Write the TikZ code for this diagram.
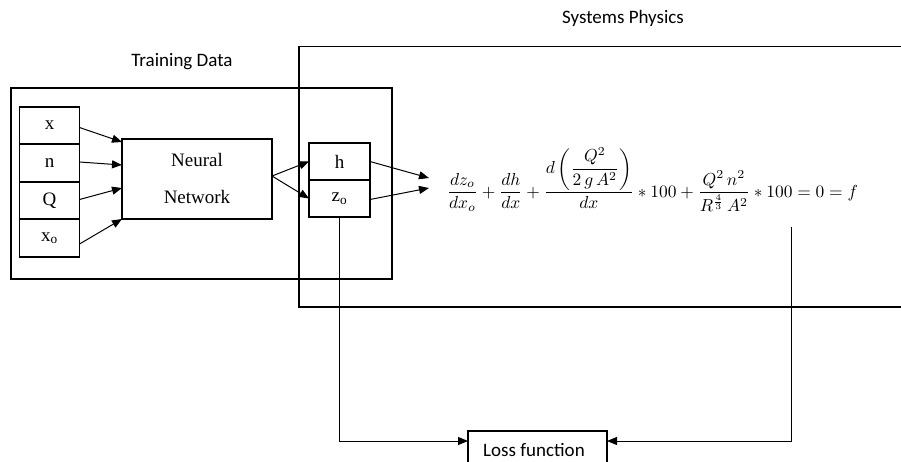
\documentclass[tikz,border=0pt]{standalone}
\usepackage{fontspec}
\usepackage{amsmath}
\usepackage{graphicx}
\setmainfont{Liberation Serif}
\newfontfamily\calibrifont{Carlito}
\usetikzlibrary{arrows.meta,calc}
\begin{document}
\begin{tikzpicture}[x=1pt,y=-1pt,
  line width=1.2pt,
  every node/.style={inner sep=0pt, outer sep=0pt},
  cell/.style={draw, minimum width=60pt, anchor=north west, font=\fontsize{19}{22}\selectfont},
  lbl/.style={font=\calibrifont\fontsize{19}{22}\selectfont},
  arr/.style={-{Triangle[length=10pt,width=8pt]}, line width=1pt},
  ln/.style={line width=1pt}]
\useasboundingbox (0,0) rectangle (901,461);
% group frames
\node[lbl] (tdl) at (182,62) {Training Data};
\node[lbl] (spl) at (623,18) {Systems Physics};
\node[draw, anchor=north west, minimum width=381pt, minimum height=191pt] (td) at (11,88) {};
\draw (901,46.5) coordinate (spa) -- (299,46.5) -- (299,307) -- (901,307) coordinate (spb);
% inputs
\node[cell, minimum height=37pt] (x) at (19.5,107) {x};
\node[cell, minimum height=38pt] (n) at (19.5,144) {n};
\node[cell, minimum height=37pt] (Q) at (19.5,182) {Q};
\node[cell, minimum height=38pt] (xo) at (19.5,219) {x\textsubscript{o}};
% neural network
\node[draw, anchor=north west, minimum width=150pt, minimum height=80pt] (nn) at (122,139) {};
\node[font=\fontsize{19}{22}\selectfont] (nn1) at (197,160) {Neural};
\node[font=\fontsize{19}{22}\selectfont] (nn2) at (197,197) {Network};
% outputs
\node[cell, minimum width=61pt, minimum height=37pt] (h) at (309,143) {h};
\node[cell, minimum width=61pt, minimum height=37pt] (z) at (309,180) {z\textsubscript{o}};
% equation
\node[anchor=base west] (eq) at (447,197)
  {\resizebox{411pt}{!}{$\displaystyle \frac{dz_o}{dx_o}+\frac{dh}{dx}+\frac{d\left(\dfrac{Q^2}{2\,g\,A^2}\right)}{dx}*100+\frac{Q^2\,n^2}{R^{\frac{4}{3}}\,A^2}*100=0=f$}};
% loss
\node[draw, anchor=north west, minimum width=139pt, minimum height=40pt] (loss) at (468,431) {};
\node[lbl] (lossl) at (534,450) {Loss function};
% connectors
\draw[arr] ($(x.east)+(0,2)$) -- ($(nn.north west)+(0,3)$);
\draw[arr] ($(n.east)+(0,-1)$) -- ($(nn.north west)+(0,26)$);
\draw[arr] ($(Q.east)+(0,-1)$) -- ($(nn.north west)+(0,49)$);
\draw[arr] ($(xo.east)+(0,6)$) -- (nn.south west);
\coordinate (nnout) at ($(nn.east)+(0,-3)$);
\draw[arr] (nnout) -- (h.west);
\draw[arr] (nnout) -- (z.west);
\coordinate (t1) at (429,178);
\coordinate (t2) at (429,188);
\draw[arr] (h.east) -- (t1);
\draw[arr] ($(z.east)+(0,1)$) -- (t2);
\draw[arr] (z.south) -- (z.south |- 0,441) -- (loss.west |- 0,441);
\coordinate (fout) at (791,227);
\draw[arr] (fout) -- (791,441) -- (loss.east |- 0,441);
\end{tikzpicture}
\end{document}
